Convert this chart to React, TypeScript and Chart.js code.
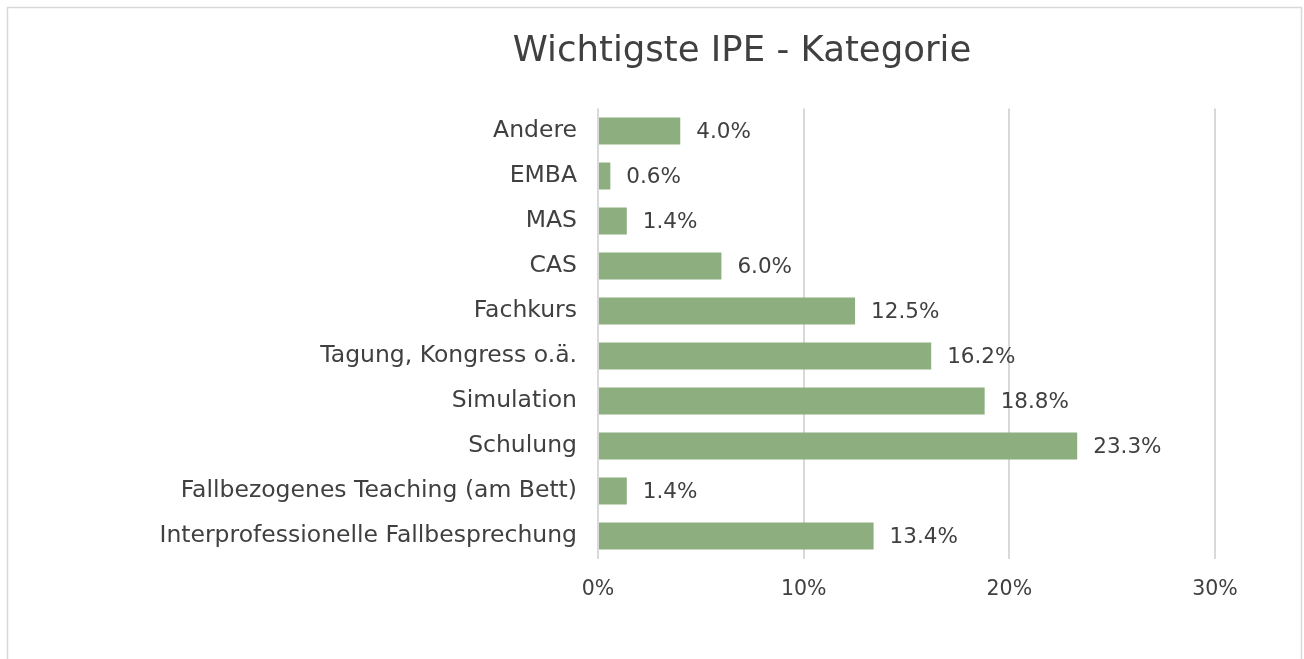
import React, { useEffect, useRef } from "react";
import { Chart, registerables } from "chart.js";

Chart.register(...registerables);

const categories = [
  "Andere",
  "EMBA",
  "MAS",
  "CAS",
  "Fachkurs",
  "Tagung, Kongress o.ä.",
  "Simulation",
  "Schulung",
  "Fallbezogenes Teaching (am Bett)",
  "Interprofessionelle Fallbesprechung",
];
const values = [4.0, 0.6, 1.4, 6.0, 12.5, 16.2, 18.8, 23.3, 1.4, 13.4];
const xTicks = [0, 10, 20, 30];
const titleText = "Wichtigste IPE - Kategorie";

const FONT = "'DejaVu Sans', sans-serif";
const TEXT = "#404040";
const GRID = "#d9d9d9";
const BAR = "#8daf80";

const framePlugin = {
  id: "frame",
  beforeDraw(chart: any) {
    const ctx = chart.ctx;
    ctx.save();
    ctx.fillStyle = "#fff";
    ctx.fillRect(0, 0, chart.width, chart.height);
    ctx.strokeStyle = GRID;
    ctx.lineWidth = 1.5;
    ctx.strokeRect(7.5, 7.5, chart.width - 10, chart.height + 20);
    ctx.restore();
  },
  afterDraw(chart: any) {
    const ctx = chart.ctx;
    ctx.save();
    ctx.fillStyle = TEXT;
    ctx.font = `35.5px ${FONT}`;
    ctx.textAlign = "center";
    ctx.textBaseline = "middle";
    ctx.fillText(titleText, 742, 52);
    // data labels
    const meta = chart.getDatasetMeta(0);
    ctx.font = `21.5px ${FONT}`;
    ctx.textAlign = "left";
    meta.data.forEach((bar: any, i: number) => {
      ctx.fillText(values[i].toFixed(1) + "%", bar.x + 16, bar.y + 1);
    });
    ctx.restore();
  },
};

export default function App() {
  const ref = useRef<HTMLCanvasElement>(null);
  useEffect(() => {
    const chart = new Chart(ref.current!, {
      type: "bar",
      data: {
        labels: categories,
        datasets: [
          {
            data: values,
            backgroundColor: BAR,
            barPercentage: 0.6,
            categoryPercentage: 1,
          },
        ],
      },
      options: {
        indexAxis: "y",
        animation: false,
        responsive: false,
        layout: { padding: { top: 108.5, bottom: 40.5, left: 0, right: 89 } },
        plugins: {
          legend: { display: false },
          title: { display: false },
          tooltip: { enabled: false },
        },
        scales: {
          x: {
            min: 0,
            max: 30,
            afterBuildTicks: (s: any) => {
              s.ticks = xTicks.map((v) => ({ value: v }));
            },
            afterFit: (s: any) => {
              s.height = 60;
            },
            ticks: {
              color: TEXT,
              font: { family: FONT, size: 20.5 },
              padding: 19,
              callback: (v: any) => v + "%",
            },
            grid: { color: GRID, lineWidth: 2, drawTicks: false },
            border: { display: false },
          },
          y: {
            afterFit: (s: any) => {
              s.width = 598;
            },
            ticks: {
              color: TEXT,
              font: { family: FONT, size: 23.5 },
              padding: 21,
            },
            grid: { display: false, drawTicks: false },
            border: { display: false },
          },
        },
      },
      plugins: [framePlugin],
    });
    return () => chart.destroy();
  }, []);
  return (
    <div style={{ position: "fixed", left: 0, top: 0, width: 1304, height: 659 }}>
      <canvas ref={ref} width={1304} height={659} />
    </div>
  );
}
